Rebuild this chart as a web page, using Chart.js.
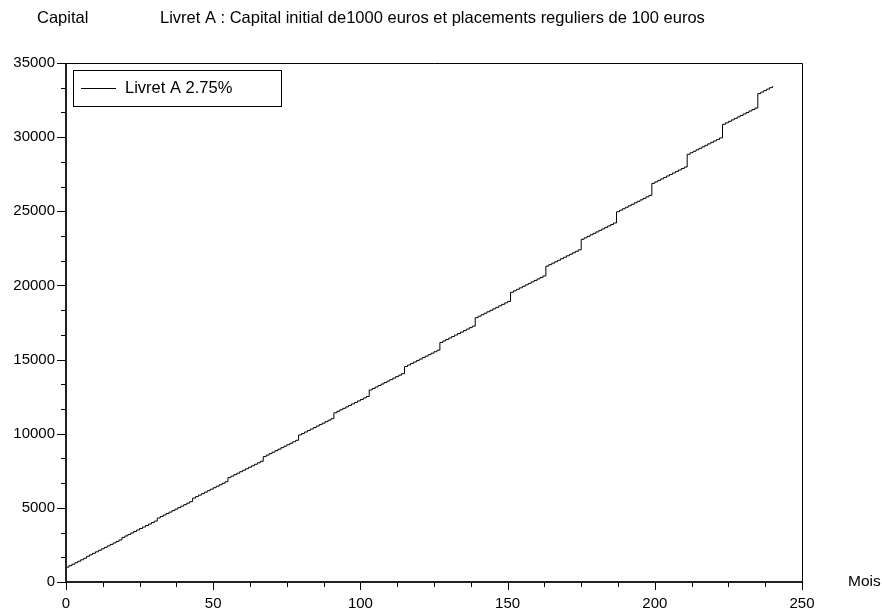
<html>

<head>
    <script type="text/javascript" src="https://cdn.jsdelivr.net/npm/chart.js"></script>
    <style>
        body { margin: 0; background: #fff; }
    </style>
</head>

<body>
    <canvas id="capitalGraph" width="882" height="611"></canvas>
</body>

</html>

<script type="text/javascript">
    // capital en euros, un point par mois (mois 0 a 240)
    const capital = [
        1000, 1100, 1200, 1300, 1400, 1500, 1600,
        1735, 1835, 1935, 2035, 2135, 2235, 2335, 2435, 2535, 2635, 2735, 2835,
        3007, 3107, 3207, 3307, 3407, 3507, 3607, 3707, 3807, 3907, 4007, 4107,
        4315, 4415, 4515, 4615, 4715, 4815, 4915, 5015, 5115, 5215, 5315, 5415,
        5658, 5758, 5858, 5958, 6058, 6158, 6258, 6358, 6458, 6558, 6658, 6758,
        7038, 7138, 7238, 7338, 7438, 7538, 7638, 7738, 7838, 7938, 8038, 8138,
        8457, 8557, 8657, 8757, 8857, 8957, 9057, 9157, 9257, 9357, 9457, 9557,
        9914, 10014, 10114, 10214, 10314, 10414, 10514, 10614, 10714, 10814, 10914, 11014,
        11411, 11511, 11611, 11711, 11811, 11911, 12011, 12111, 12211, 12311, 12411, 12511,
        12950, 13050, 13150, 13250, 13350, 13450, 13550, 13650, 13750, 13850, 13950, 14050,
        14530, 14630, 14730, 14830, 14930, 15030, 15130, 15230, 15330, 15430, 15530, 15630,
        16154, 16254, 16354, 16454, 16554, 16654, 16754, 16854, 16954, 17054, 17154, 17254,
        17824, 17924, 18024, 18124, 18224, 18324, 18424, 18524, 18624, 18724, 18824, 18924,
        19538, 19638, 19738, 19838, 19938, 20038, 20138, 20238, 20338, 20438, 20538, 20638,
        21300, 21400, 21500, 21600, 21700, 21800, 21900, 22000, 22100, 22200, 22300, 22400,
        23111, 23211, 23311, 23411, 23511, 23611, 23711, 23811, 23911, 24011, 24111, 24211,
        24971, 25071, 25171, 25271, 25371, 25471, 25571, 25671, 25771, 25871, 25971, 26071,
        26883, 26983, 27083, 27183, 27283, 27383, 27483, 27583, 27683, 27783, 27883, 27983,
        28847, 28947, 29047, 29147, 29247, 29347, 29447, 29547, 29647, 29747, 29847, 29947,
        30865, 30965, 31065, 31165, 31265, 31365, 31465, 31565, 31665, 31765, 31865, 31965,
        32939, 33039, 33139, 33239, 33339, 33439
    ];
    const xTicks = [0, 50, 100, 150, 200, 250];
    const yTicks = [0, 5000, 10000, 15000, 20000, 25000, 30000, 35000];
    const serieLabel = 'Livret A 2.75%';
    const titreY = 'Capital';
    const titre = 'Livret A : Capital initial de1000 euros et placements reguliers de 100 euros';
    const titreX = 'Mois';

    const famille = '"Liberation Sans", Arial, sans-serif';

    // cadre, graduations, legende et titres a la facon Scilab
    const decor = {
        id: 'decor',
        afterDraw(chart) {
            const ctx = chart.ctx;
            const a = chart.chartArea;
            const sx = chart.scales.x;
            const sy = chart.scales.y;
            ctx.save();
            ctx.strokeStyle = '#000';

            // cadre fin en haut et a droite
            ctx.lineWidth = 1;
            ctx.beginPath();
            ctx.moveTo(a.left, a.top + 0.5);
            ctx.lineTo(a.right + 0.5, a.top + 0.5);
            ctx.lineTo(a.right + 0.5, a.bottom);
            ctx.stroke();

            // axes gauche et bas
            ctx.strokeStyle = '#222';
            ctx.lineWidth = 2;
            ctx.beginPath();
            ctx.moveTo(a.left, a.top);
            ctx.lineTo(a.left, a.bottom);
            ctx.lineTo(a.right + 1, a.bottom);
            ctx.stroke();

            // graduations x : 4 sous-divisions
            ctx.strokeStyle = '#000';
            ctx.lineWidth = 1;
            ctx.beginPath();
            for (let i = 0; i < xTicks.length; i++) {
                const px = Math.round(sx.getPixelForValue(xTicks[i])) + 0.5;
                ctx.moveTo(px, a.bottom);
                ctx.lineTo(px, a.bottom + 8);
                if (i < xTicks.length - 1) {
                    const pas = (xTicks[i + 1] - xTicks[i]) / 4;
                    for (let k = 1; k < 4; k++) {
                        const pm = Math.round(sx.getPixelForValue(xTicks[i] + k * pas)) + 0.5;
                        ctx.moveTo(pm, a.bottom);
                        ctx.lineTo(pm, a.bottom + 5);
                    }
                }
            }
            // graduations y : 3 sous-divisions
            for (let i = 0; i < yTicks.length; i++) {
                const py = Math.round(sy.getPixelForValue(yTicks[i])) + 0.5;
                ctx.moveTo(a.left, py);
                ctx.lineTo(a.left - 9, py);
                if (i < yTicks.length - 1) {
                    const pas = (yTicks[i + 1] - yTicks[i]) / 3;
                    for (let k = 1; k < 3; k++) {
                        const pm = Math.round(sy.getPixelForValue(yTicks[i] + k * pas)) + 0.5;
                        ctx.moveTo(a.left, pm);
                        ctx.lineTo(a.left - 5, pm);
                    }
                }
            }
            ctx.stroke();

            // legende
            const lx = a.left + 7, ly = a.top + 7;
            ctx.strokeRect(lx + 0.5, ly + 0.5, 208, 36);
            ctx.beginPath();
            ctx.moveTo(lx + 8, ly + 18.5);
            ctx.lineTo(lx + 43, ly + 18.5);
            ctx.stroke();
            ctx.fillStyle = '#000';
            ctx.font = '16.5px ' + famille;
            ctx.textBaseline = 'middle';
            ctx.textAlign = 'left';
            ctx.fillText(serieLabel, lx + 52, ly + 18);

            // titres
            ctx.font = '16.5px ' + famille;
            ctx.fillText(titreY, 37, 18);
            ctx.fillText(titre, 160, 18);
            ctx.font = '15.5px ' + famille;
            ctx.fillText(titreX, a.right + 46, a.bottom);
            ctx.restore();
        }
    };

    const ctx = document.getElementById('capitalGraph').getContext('2d');
    const capitalGraph = new Chart(ctx, {
        type: 'line',
        data: {
            datasets: [{
                label: serieLabel,
                data: capital.map((v, i) => ({ x: i, y: v })),
                borderColor: '#000',
                borderWidth: 1,
                pointRadius: 0,
                stepped: 'before',
                fill: false
            }]
        },
        options: {
            responsive: false,
            animation: false,
            devicePixelRatio: 1,
            layout: { padding: { left: 0, right: 80, top: 63, bottom: 0 } },
            plugins: {
                legend: { display: false },
                tooltip: { enabled: false }
            },
            scales: {
                x: {
                    type: 'linear',
                    min: 0,
                    max: 250,
                    afterBuildTicks: (s) => { s.ticks = xTicks.map(v => ({ value: v })); },
                    afterFit: (s) => { s.height = 29; },
                    grid: { display: false, drawTicks: false },
                    border: { display: false },
                    ticks: {
                        color: '#000',
                        padding: 13,
                        maxRotation: 0,
                        font: { family: famille, size: 15 }
                    }
                },
                y: {
                    min: 0,
                    max: 35000,
                    afterBuildTicks: (s) => { s.ticks = yTicks.map(v => ({ value: v })); },
                    afterFit: (s) => { s.width = 66; },
                    grid: { display: false, drawTicks: false },
                    border: { display: false },
                    ticks: {
                        color: '#000',
                        padding: 11,
                        callback: (v) => String(v),
                        font: { family: famille, size: 15 }
                    }
                }
            }
        },
        plugins: [decor]
    });
</script>
